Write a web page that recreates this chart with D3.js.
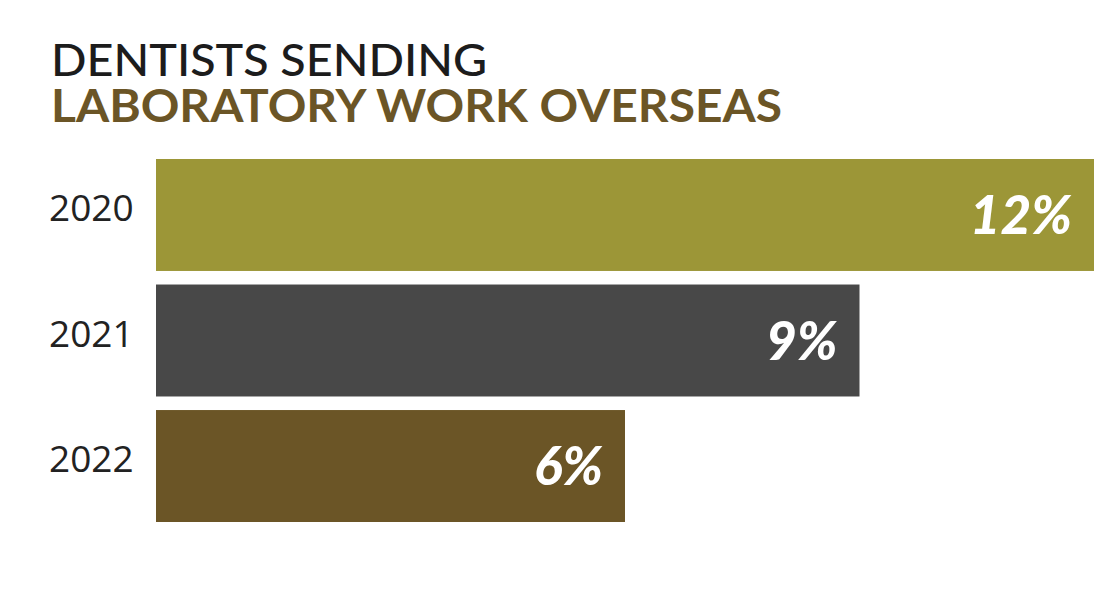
<!DOCTYPE html>
<html>
<head>
<meta charset="utf-8">
<script src="https://cdn.jsdelivr.net/npm/d3@7"></script>
<style>
  html, body { margin: 0; padding: 0; background: #fff; }
  #chart { width: 1108px; height: 600px; }
</style>
</head>
<body>
<div id="chart"></div>
<script>
//Datos
const years = ['2020', '2021', '2022'];
const values = [12, 9, 6];
const barColors = ['#9c9637', '#484848', '#6b5526'];

const COLOR_TITLE_1 = '#1c1c1c',
COLOR_TITLE_2 = '#6b5526';

let width = 1108, height = 600;
let margin = {top: 159, bottom: 78, left: 156, right: 14};

let svg = d3.select('#chart')
    .append('svg')
      .attr('width', width)
      .attr('height', height);

//Título
svg.append('text')
    .attr('x', 51)
    .attr('y', 76)
    .attr('textLength', 436)
    .attr('lengthAdjust', 'spacingAndGlyphs')
    .style('font-family', 'Lato, sans-serif')
    .style('font-size', '45px')
    .style('font-weight', 500)
    .style('fill', COLOR_TITLE_1)
    .text('DENTISTS SENDING');

svg.append('text')
    .attr('x', 51)
    .attr('y', 122)
    .attr('textLength', 731)
    .attr('lengthAdjust', 'spacingAndGlyphs')
    .style('font-family', 'Lato, sans-serif')
    .style('font-size', '45px')
    .style('font-weight', 700)
    .style('fill', COLOR_TITLE_2)
    .text('LABORATORY WORK OVERSEAS');

let x = d3.scaleLinear()
    .domain([0, 12])
    .range([margin.left, width - margin.right]);

let y = d3.scaleBand()
    .domain(years)
    .range([margin.top, height - margin.bottom])
    .paddingInner(0.108)
    .paddingOuter(0);

let rows = svg.append('g')
    .selectAll('g')
    .data(years)
    .enter()
    .append('g');

rows.append('rect')
    .attr('x', x(0))
    .attr('y', function(d) { return y(d); })
    .attr('width', function(d, i) { return x(values[i]) - x(0); })
    .attr('height', y.bandwidth())
    .attr('fill', function(d, i) { return barColors[i]; });

//Años
rows.append('text')
    .attr('x', 49)
    .attr('y', function(d) { return y(d) + y.bandwidth() / 2 + 6; })
    .style('font-family', '"Open Sans", sans-serif')
    .style('font-size', '37px')
    .style('font-weight', 400)
    .style('fill', '#222')
    .text(function(d) { return d; });

//Valores
rows.append('text')
    .attr('x', function(d, i) { return x(values[i]) - 22; })
    .attr('y', function(d) { return y(d) + y.bandwidth() / 2 + 19; })
    .attr('text-anchor', 'end')
    .style('font-family', 'Lato, sans-serif')
    .style('font-size', '53px')
    .style('font-weight', 900)
    .style('font-style', 'italic')
    .style('fill', '#fff')
    .text(function(d, i) { return values[i] + '%'; });
</script>
</body>
</html>
